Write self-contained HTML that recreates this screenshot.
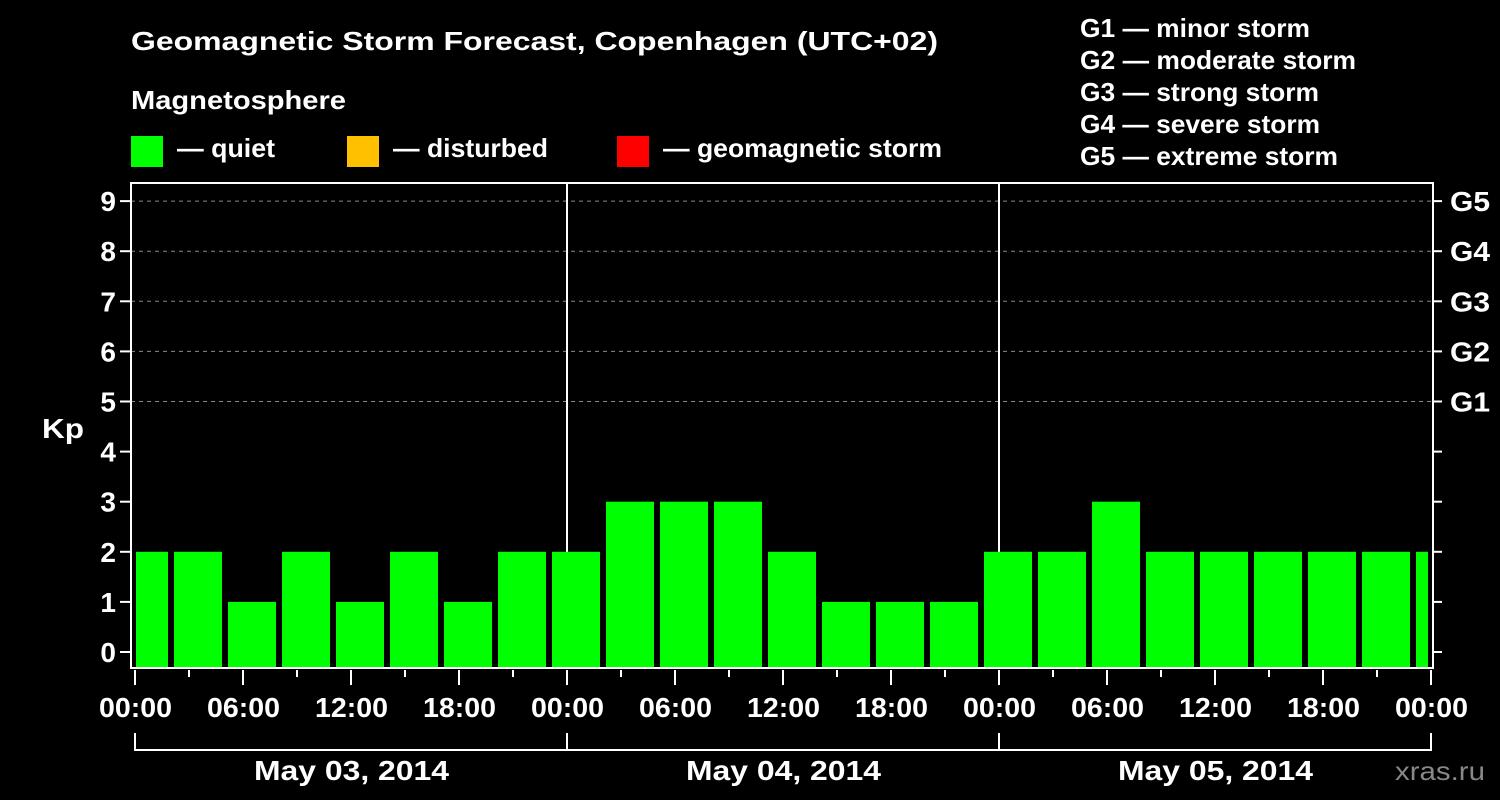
<!DOCTYPE html>
<html><head><meta charset="utf-8"><style>
html,body{margin:0;padding:0;background:#000;}
svg{display:block;font-family:"Liberation Sans",Arial,sans-serif;font-weight:bold;}
</style></head><body>
<svg id="c" width="1500" height="800" viewBox="0 0 1500 800">
<text x="131" y="50" fill="#fff" font-size="26" textLength="807" lengthAdjust="spacingAndGlyphs">Geomagnetic Storm Forecast, Copenhagen (UTC+02)</text>
<text x="131" y="109" fill="#fff" font-size="26" textLength="215" lengthAdjust="spacingAndGlyphs">Magnetosphere</text>
<g><rect x="131" y="136" width="32" height="31" fill="#00ff00"/><text x="177" y="157" fill="#fff" font-size="26" textLength="98" lengthAdjust="spacingAndGlyphs">— quiet</text></g>
<g><rect x="347" y="136" width="32" height="31" fill="#ffc000"/><text x="393" y="157" fill="#fff" font-size="26" textLength="155" lengthAdjust="spacingAndGlyphs">— disturbed</text></g>
<g><rect x="617" y="136" width="32" height="31" fill="#ff0000"/><text x="663" y="157" fill="#fff" font-size="26" textLength="279" lengthAdjust="spacingAndGlyphs">— geomagnetic storm</text></g>
<g fill="#fff" font-size="26" lengthAdjust="spacingAndGlyphs">
<text x="1080" y="37" textLength="230" lengthAdjust="spacingAndGlyphs">G1 — minor storm</text>
<text x="1080" y="69" textLength="276" lengthAdjust="spacingAndGlyphs">G2 — moderate storm</text>
<text x="1080" y="101" textLength="239" lengthAdjust="spacingAndGlyphs">G3 — strong storm</text>
<text x="1080" y="133" textLength="240" lengthAdjust="spacingAndGlyphs">G4 — severe storm</text>
<text x="1080" y="165" textLength="258" lengthAdjust="spacingAndGlyphs">G5 — extreme storm</text>
</g>
<text x="42" y="438" fill="#fff" font-size="28" textLength="42" lengthAdjust="spacingAndGlyphs">Kp</text>
<text x="1395" y="780" fill="#888" font-size="26" textLength="90" lengthAdjust="spacingAndGlyphs" font-weight="normal">xras.ru</text>
<g id="grid"></g><g id="bars"></g><g id="axes"></g>
</svg>
<script>
const kpValues=[2,2,1,2,1,2,1,2,2,3,3,3,2,1,1,1,2,2,3,2,2,2,2,2,2];
const yTicks=[0,1,2,3,4,5,6,7,8,9];
const gLabels=["G1","G2","G3","G4","G5"];
const dayLabels=["May 03, 2014","May 04, 2014","May 05, 2014"];
const hourLabels=["00:00","06:00","12:00","18:00"];
const firstBarHour=-1;
const NS="http://www.w3.org/2000/svg";
const L=131,R=1433,T=183,B=668,x0=135,pxH=18;
const X=h=>x0+h*pxH, Y=v=>652-v*50.1;
function mk(t,a,p,txt){const e=document.createElementNS(NS,t);for(const k in a)e.setAttribute(k,a[k]);if(txt!==undefined)e.textContent=txt;p.appendChild(e);return e;}
const grid=document.getElementById('grid'),bars=document.getElementById('bars'),axes=document.getElementById('axes');
yTicks.forEach(v=>{
 if(v>=5){const g=mk('line',{x1:L,x2:R,y1:Y(v),y2:Y(v),stroke:'#888','stroke-dasharray':'4,4'},grid);}
 const t=mk('line',{x1:120,x2:L,y1:Y(v),y2:Y(v),stroke:'#fff','stroke-width':2},axes);
 
 const t2=mk('line',{x1:R,x2:1442,y1:Y(v),y2:Y(v),stroke:'#fff','stroke-width':2},axes);
 
 const lb=mk('text',{x:116,y:Y(v)+10,fill:'#fff','font-size':28,'text-anchor':'end'},axes,String(v));
 
});
gLabels.forEach((g,i)=>{const lb=mk('text',{x:1450,y:Y(5+i)+10,fill:'#fff','font-size':28,textLength:40,lengthAdjust:'spacingAndGlyphs'},axes,g);
 });
kpValues.forEach((v,i)=>{
 let a=X(firstBarHour+3*i)+3,b=X(firstBarHour+3*i+3)-3;
 a=Math.max(a,x0+1);b=Math.min(b,X(72)-3);
 const r=mk('rect',{x:a,y:Y(v),width:b-a,height:B-Y(v),fill:v>=5?'#ff0000':(v>=4?'#ffc000':'#00ff00')},bars);
 
});
[24,48].forEach(h=>{const l=mk('line',{x1:X(h),x2:X(h),y1:T,y2:B,stroke:'#fff','stroke-width':2},grid);
 });
const fr=mk('rect',{x:L,y:T,width:R-L,height:B-T,fill:'none',stroke:'#fff','stroke-width':2},axes);

for(let h=0;h<=72;h+=3){const major=h%6===0;
 const t=mk('line',{x1:X(h),x2:X(h),y1:B+2,y2:major?B+17:B+9,stroke:'#fff','stroke-width':2},axes);
 
 if(major){const lb=mk('text',{x:X(h)-36,y:717,fill:'#fff','font-size':28,textLength:73,lengthAdjust:'spacingAndGlyphs'},axes,hourLabels[(h/6)%4]);
 }}
const br=mk('path',{d:`M${X(0)} 733V750H${X(72)}V733M${X(24)} 733V750M${X(48)} 733V750`,fill:'none',stroke:'#fff','stroke-width':2},axes);

dayLabels.forEach((d,i)=>{const lb=mk('text',{x:X(24*i+12)-97,y:780,fill:'#fff','font-size':28,textLength:195,lengthAdjust:'spacingAndGlyphs'},axes,d);
 });
</script>
</body></html>
